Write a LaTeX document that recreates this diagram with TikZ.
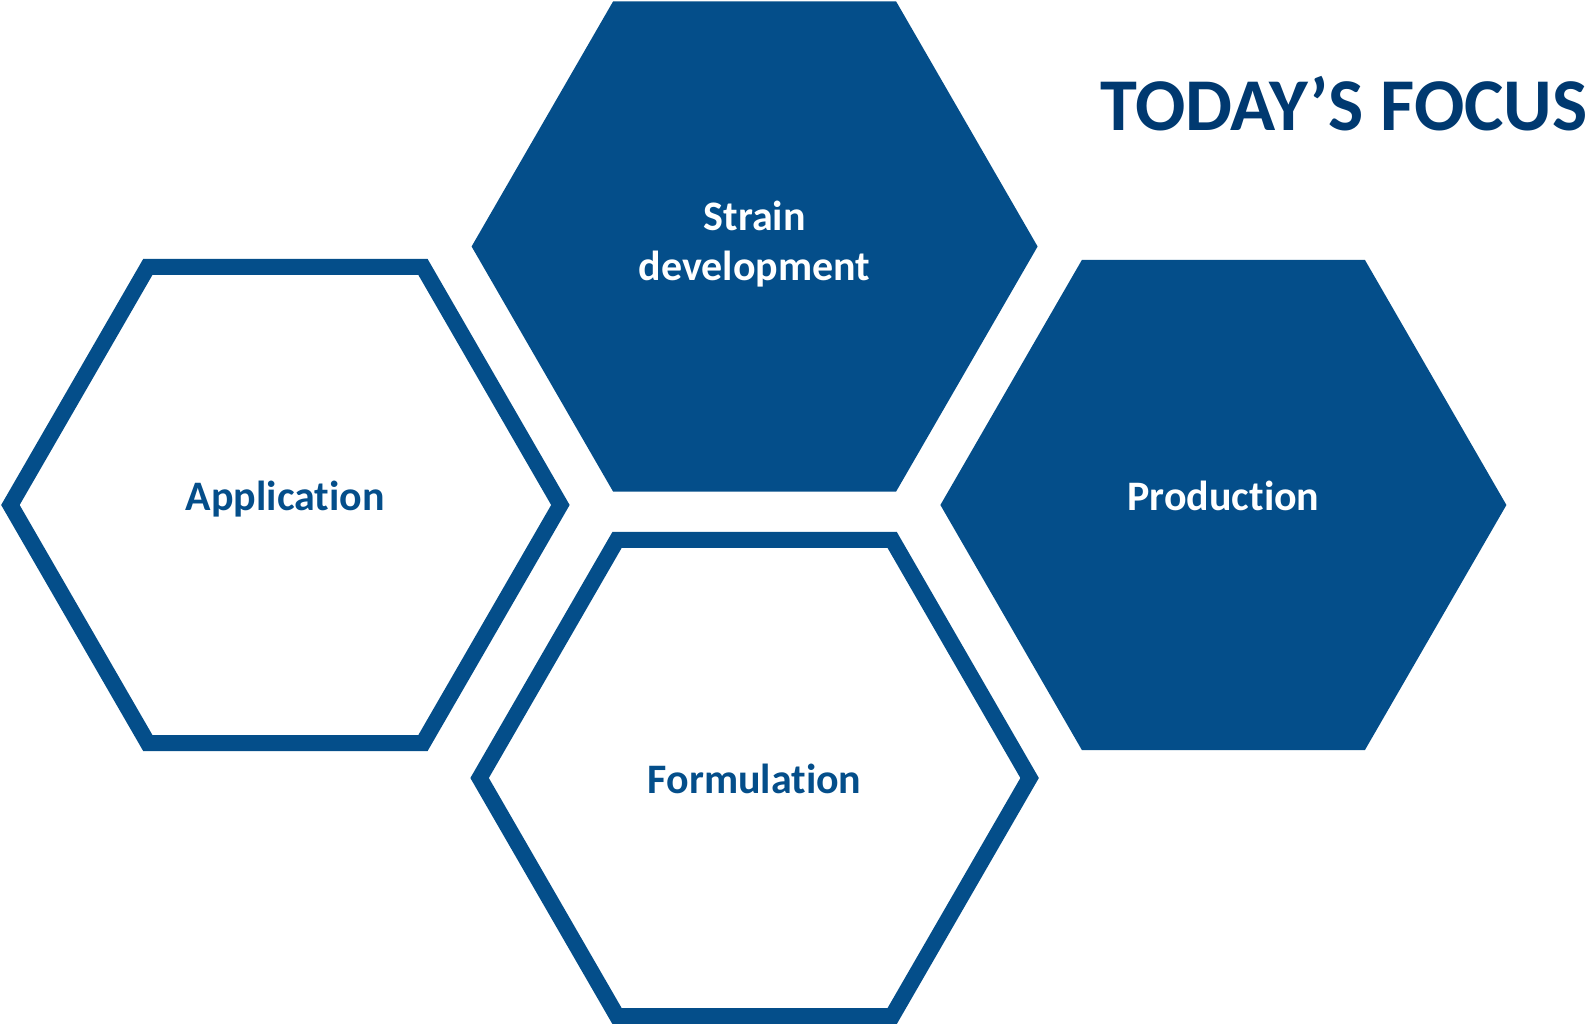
\documentclass[tikz,border=0pt]{standalone}
\usepackage{fontspec}
\setmainfont[Ligatures=NoCommon]{Carlito}
\definecolor{hexblue}{RGB}{4,78,138}
\definecolor{titleblue}{RGB}{0,57,112}
\begin{document}
\begin{tikzpicture}[x=1pt,y=1pt, line join=miter,
  hexfull/.style={fill=hexblue},
  hexline/.style={draw=hexblue, line width=16pt},
  hexlabel/.style={anchor=base, inner sep=0pt, align=center, font=\bfseries\fontsize{42}{50}\selectfont}]
\useasboundingbox (0,0) rectangle (1590,1023);
\path
(285.4,518) coordinate (A)
(754.6,776.5) coordinate (S)
(1223.4,518) coordinate (P)
(754.6,245) coordinate (F)
;
% filled hexagons
\foreach \c in {S,P}
  \path[hexfull,shift={(\c)}] (0:283pt) -- (60:283pt) -- (120:283pt) -- (180:283pt) -- (240:283pt) -- (300:283pt) -- cycle;
% outlined hexagons
\foreach \c in {A,F}
  \draw[hexline,shift={(\c)}] (0:275pt) -- (60:275pt) -- (120:275pt) -- (180:275pt) -- (240:275pt) -- (300:275pt) -- cycle;
\node[hexlabel, text=white] (strain) at (754.6,742) {Strain\\development};
\node[hexlabel, text=white] (prod) at (1223.4,512) {Production};
\node[hexlabel, text=hexblue] (app) at (285.4,512) {Application};
\node[hexlabel, text=hexblue] (form) at (754.6,229.7) {Formulation};
\node[anchor=base east, inner sep=0pt, text=titleblue, font=\bfseries\fontsize{74.5}{80}\selectfont] (title) at (1588,892) {TODAY’S FOCUS};
\end{tikzpicture}
\end{document}
